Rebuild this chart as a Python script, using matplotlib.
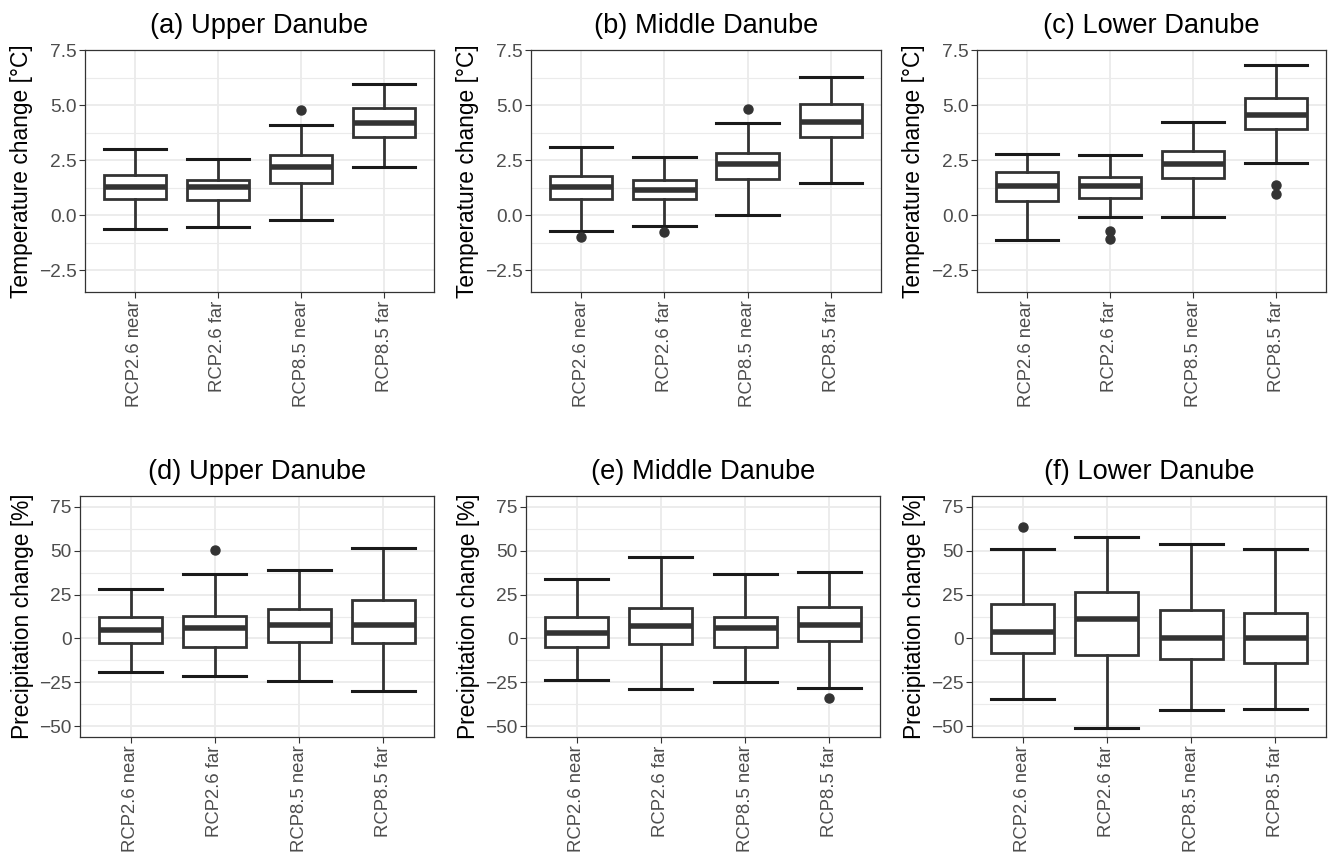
import numpy as np
import matplotlib.pyplot as plt

plt.rcParams['font.family'] = ['Liberation Sans', 'DejaVu Sans']

scenarios = ['RCP2.6 near', 'RCP2.6 far', 'RCP8.5 near', 'RCP8.5 far']

titles_temp = ['(a) Upper Danube', '(b) Middle Danube', '(c) Lower Danube']
titles_prec = ['(d) Upper Danube', '(e) Middle Danube', '(f) Lower Danube']

# box statistics: [whisker low, Q1, median, Q3, whisker high]
temp_upper = [[-0.62, 0.71, 1.29, 1.82, 2.98],
              [-0.53, 0.68, 1.26, 1.59, 2.55],
              [-0.24, 1.47, 2.20, 2.71, 4.11],
              [2.20, 3.56, 4.17, 4.88, 5.94]]
temp_upper_out = [[], [], [4.79], []]

temp_middle = [[-0.74, 0.73, 1.26, 1.79, 3.08],
               [-0.52, 0.73, 1.14, 1.58, 2.64],
               [-0.02, 1.65, 2.30, 2.83, 4.20],
               [1.47, 3.53, 4.24, 5.03, 6.29]]
temp_middle_out = [[-0.98], [-0.79], [4.80], []]

temp_lower = [[-1.14, 0.65, 1.32, 1.94, 2.76],
              [-0.08, 0.76, 1.32, 1.74, 2.73],
              [-0.08, 1.67, 2.32, 2.92, 4.23],
              [2.35, 3.89, 4.53, 5.30, 6.80]]
temp_lower_out = [[], [-0.71, -1.11], [], [1.36, 0.95]]

prec_upper = [[-19.1, -2.9, 4.8, 12.4, 28.1],
              [-21.4, -4.8, 5.7, 12.8, 36.8],
              [-24.2, -2.1, 7.8, 16.6, 39.3],
              [-30.2, -2.9, 7.8, 21.9, 51.5]]
prec_upper_out = [[], [50.6], [], []]

prec_middle = [[-23.7, -5.0, 2.9, 12.2, 33.8],
               [-28.8, -3.4, 7.3, 17.2, 46.2],
               [-25.0, -4.8, 6.1, 12.2, 36.6],
               [-28.2, -1.3, 7.8, 18.1, 38.0]]
prec_middle_out = [[], [], [], [-34.0]]

prec_lower = [[-34.4, -8.4, 3.8, 19.7, 51.1],
              [-51.1, -9.2, 11.3, 26.5, 57.8],
              [-40.6, -12.0, 0.4, 16.2, 53.8],
              [-40.1, -13.9, 0.0, 14.3, 51.1]]
prec_lower_out = [[63.5], [], [], []]

temp_ticks = [-2.5, 0.0, 2.5, 5.0, 7.5]
prec_ticks = [-50, -25, 0, 25, 50, 75]

W, H = 1328, 855
fig = plt.figure(figsize=(W / 100, H / 100), dpi=100)

def px_axes(x0, y0, x1, y1):
    return fig.add_axes([x0 / W, 1 - y1 / H, (x1 - x0) / W, (y1 - y0) / H])

dark = '#333333'

def draw_panel(ax, stats, outs, title, ylabel, ticks, ylim, minor, fmt):
    bstats = []
    for s, o in zip(stats, outs):
        bstats.append(dict(whislo=s[0], q1=s[1], med=s[2], q3=s[3], whishi=s[4], fliers=o))
    pos = np.arange(1, len(scenarios) + 1)
    ax.bxp(bstats, positions=pos, widths=0.75, patch_artist=True, zorder=3,
           boxprops=dict(facecolor='white', edgecolor=dark, linewidth=2.0),
           medianprops=dict(color=dark, linewidth=4.0, solid_capstyle='butt'),
           whiskerprops=dict(color=dark, linewidth=2.0),
           capprops=dict(color='#1a1a1a', linewidth=2.2),
           capwidths=0.75,
           flierprops=dict(marker='o', markerfacecolor=dark, markeredgecolor=dark,
                           markersize=6.5))
    ax.set_xlim(0.4, 4.6)
    ax.set_ylim(*ylim)
    ax.set_xticks(pos)
    ax.set_xticklabels(scenarios, rotation=90, fontsize=13.3, color='#4d4d4d')
    ax.set_yticks(ticks)
    ax.set_yticklabels([fmt(t) for t in ticks], fontsize=13.8, color='#4d4d4d')
    ax.set_yticks(minor, minor=True)
    ax.tick_params(axis='y', which='minor', length=0)
    ax.tick_params(which='major', length=4, width=0.8, color='#333333', pad=2)
    ax.grid(True, which='major', color='#ebebeb', linewidth=1.3, zorder=0)
    ax.grid(True, which='minor', axis='y', color='#ebebeb', linewidth=0.8, zorder=0)
    ax.set_axisbelow(True)
    for sp in ax.spines.values():
        sp.set_color('#333333')
        sp.set_linewidth(0.9)
    ax.set_title(title, fontsize=19.6, pad=12)
    ax.set_ylabel(ylabel, fontsize=16.4, labelpad=4)

temp_fmt = lambda t: ('\u22122.5' if t < 0 else '%.1f' % t)
prec_fmt = lambda t: ('\u2212%d' % -t if t < 0 else '%d' % t)

temp_sets = [(temp_upper, temp_upper_out), (temp_middle, temp_middle_out), (temp_lower, temp_lower_out)]
prec_sets = [(prec_upper, prec_upper_out), (prec_middle, prec_middle_out), (prec_lower, prec_lower_out)]

top_boxes = [(85, 50, 434, 292), (531, 50, 881, 292), (977, 50, 1326, 292)]
bot_boxes = [(80, 496, 434, 737), (526, 496, 880, 737), (972, 496, 1326, 737)]

for i in range(3):
    ax = px_axes(*top_boxes[i])
    draw_panel(ax, temp_sets[i][0], temp_sets[i][1], titles_temp[i],
               'Temperature change [°C]', temp_ticks, (-3.5, 7.5),
               [-1.25, 1.25, 3.75, 6.25], temp_fmt)
    ax = px_axes(*bot_boxes[i])
    draw_panel(ax, prec_sets[i][0], prec_sets[i][1], titles_prec[i],
               'Precipitation change [%]', prec_ticks, (-56.25, 81.25),
               [-37.5, -12.5, 12.5, 37.5, 62.5], prec_fmt)

plt.savefig('out.png', dpi=100)
